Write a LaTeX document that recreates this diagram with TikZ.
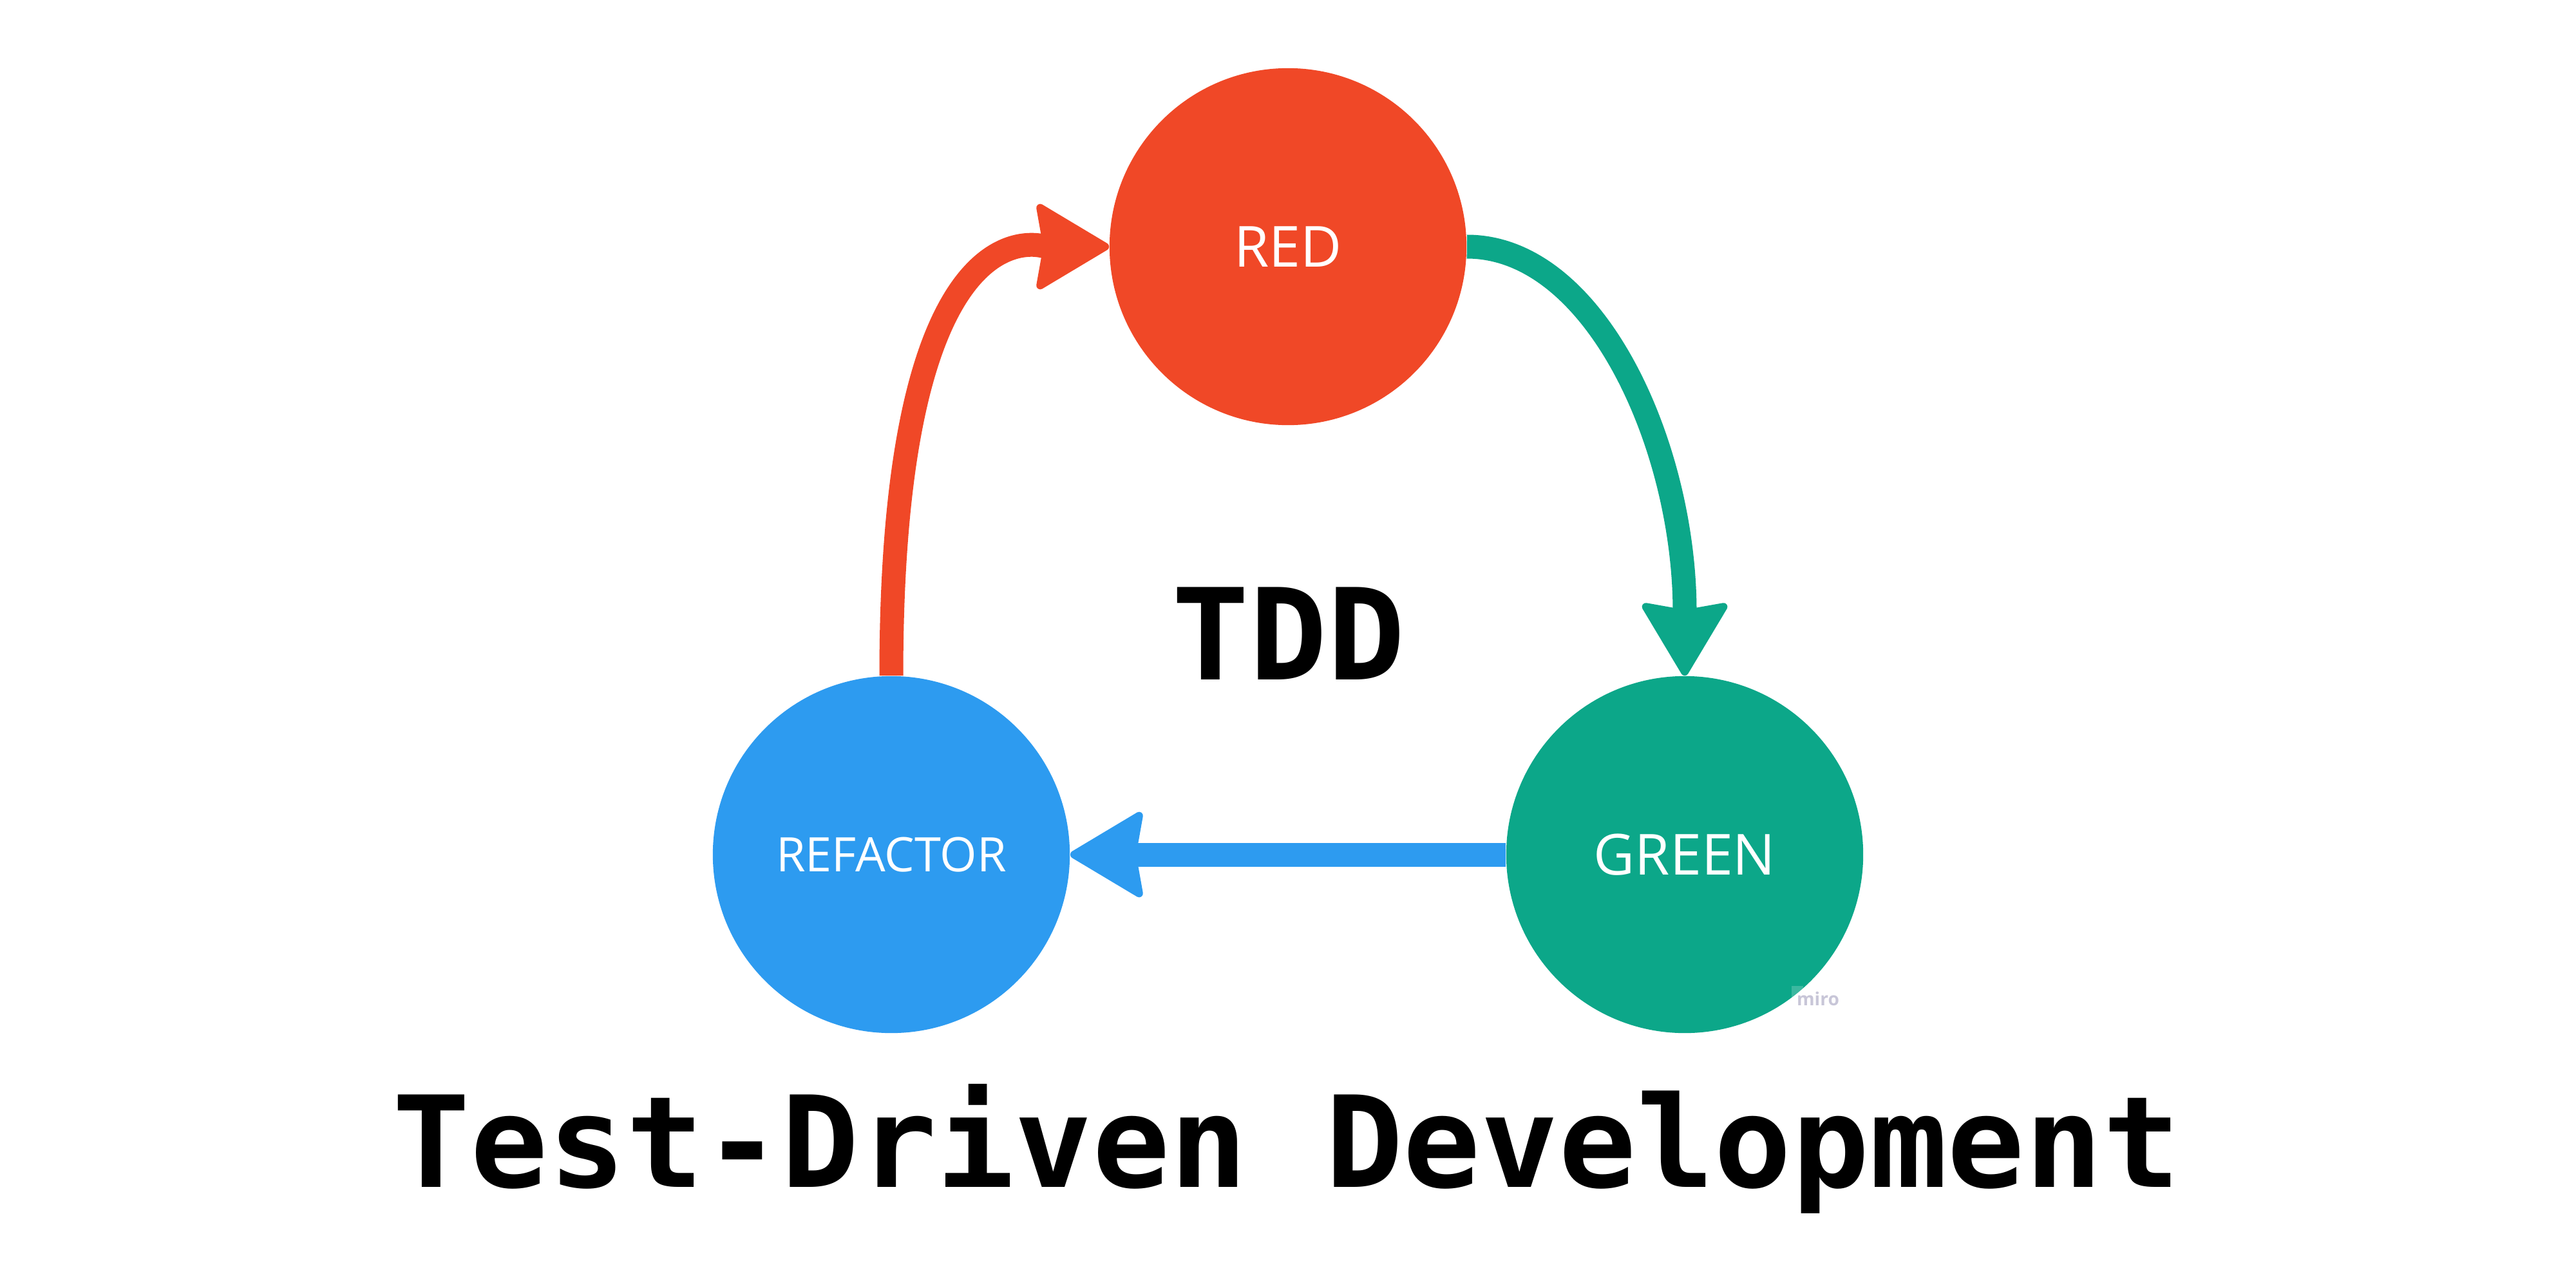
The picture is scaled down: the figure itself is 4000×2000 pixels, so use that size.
\documentclass[tikz,border=0pt]{standalone}
\usepackage{fontspec}
\setmainfont{Open Sans}
\newfontfamily\titlefont{DejaVu Sans Mono}[FakeStretch=1.018]
\usetikzlibrary{arrows.meta}
\definecolor{tddred}{RGB}{240,72,39}
\definecolor{tddgreen}{RGB}{12,167,137}
\definecolor{tddblue}{RGB}{45,155,240}
\definecolor{mirogray}{RGB}{200,198,216}
\begin{document}
\begin{tikzpicture}[x=0.01cm,y=-0.01cm,
  phase/.style={circle, minimum size=5.54cm, inner sep=0pt, text=white},
  phasefont/.style={font=\fontsize{25}{30}\selectfont},
  flow/.style={line width=0.37cm,
    -{Stealth[length=1.2cm,width=1.42cm,inset=0.12cm,round,line width=0.12cm]}},
  bigmono/.style={font=\titlefont\bfseries\fontsize{56}{60}\selectfont, text=black, inner sep=0pt, anchor=base}
]
\useasboundingbox (0,0) rectangle (4000,2000);
\fill[white] (0,0) rectangle (4000,2000);

\node[phase, phasefont, fill=tddred] (red) at (2000,383) {RED};
\node[phase, font=\fontsize{21}{25}\selectfont, fill=tddblue] (refactor) at (1384,1327) {REFACTOR};
\node[phase, phasefont, fill=tddgreen] (green) at (2616,1327) {GREEN};

\draw[flow, tddred] (refactor.north) .. controls +(0,-750) and +(-100,0) .. (red.west);
\draw[flow, tddgreen] (red.east) .. controls +(200,0) and +(0,-355) .. (green.north);
\draw[flow, tddblue] (green.west) -- (refactor.east);

\node[bigmono] (tdd) at (2001,1055) {TDD};
\node[bigmono] (title) at (1998,1843) {Test-Driven Development};

\fill[white, opacity=0.2] (2782,1531) rectangle (2800,1550);
\node[text=mirogray, font=\fontsize{8}{9}\selectfont\bfseries, anchor=base, inner sep=0pt] (miro) at (2823,1561) {miro};
\end{tikzpicture}
\end{document}
